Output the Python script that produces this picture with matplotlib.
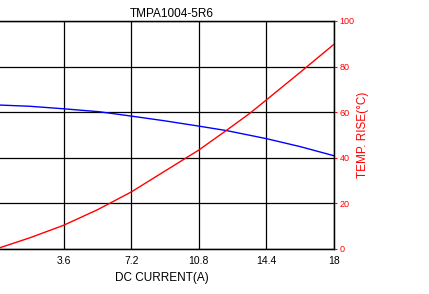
import matplotlib
matplotlib.use("Agg")
import matplotlib.pyplot as plt

plt.rcParams['font.family'] = ['Liberation Sans', 'DejaVu Sans']

# data
cur_blue = [0.0, 1.8, 3.6, 5.5, 7.2, 9.0, 10.8, 12.3, 14.4, 16.2, 18.0]
inductance = [63.2, 62.6, 61.5, 60.2, 58.3, 56.2, 53.9, 51.9, 48.4, 44.9, 40.9]  # blue, left axis (cut off)

cur_red = [0.0, 1.8, 3.6, 5.4, 7.2, 9.0, 10.8, 12.3, 13.5, 14.4, 16.2, 18.0]
temp_rise = [0.0, 4.9, 10.4, 17.2, 25.0, 34.2, 43.4, 52.2, 59.4, 65.4, 77.5, 89.8]  # red, right axis

xticks = [3.6, 7.2, 10.8, 14.4, 18]
yticks = [0, 20, 40, 60, 80, 100]

W, H = 429, 294
fig = plt.figure(figsize=(W / 100, H / 100), dpi=100)
x0, x1, y0, y1 = -4, 334, 21, 249
ax = fig.add_axes([x0 / W, 1 - y1 / H, (x1 - x0) / W, (y1 - y0) / H])

ax.plot(cur_blue, inductance, color='blue', lw=1)
ax.set_xlim(0, 18)
ax.set_ylim(0, 100)
ax.set_xticks(xticks)
ax.set_xticklabels(['3.6', '7.2', '10.8', '14.4', '18'], fontsize=7.5)
ax.set_yticks(yticks)
ax.tick_params(axis='y', left=False, labelleft=False)
ax.tick_params(axis='x', length=0, pad=5)
ax.grid(True, color='black', lw=0.9)
for s in ax.spines.values():
    s.set_color('black')
    s.set_linewidth(1)
ax.set_xlabel('DC CURRENT(A)', fontsize=8.5)
ax.xaxis.set_label_coords(0.49, -0.10)
ax.set_title('TMPA1004-5R6', fontsize=8.5, pad=3, x=0.52)

ax2 = ax.twinx()
ax2.plot(cur_red, temp_rise, color='red', lw=1)
ax2.set_ylim(0, 100)
ax2.set_yticks(yticks)
ax2.tick_params(axis='y', colors='red', labelsize=6.5, length=2, pad=2)
ax2.set_ylabel('TEMP. RISE(\u00b0C)', color='red', fontsize=8.5, labelpad=2)

fig.savefig('out.png', dpi=100)
